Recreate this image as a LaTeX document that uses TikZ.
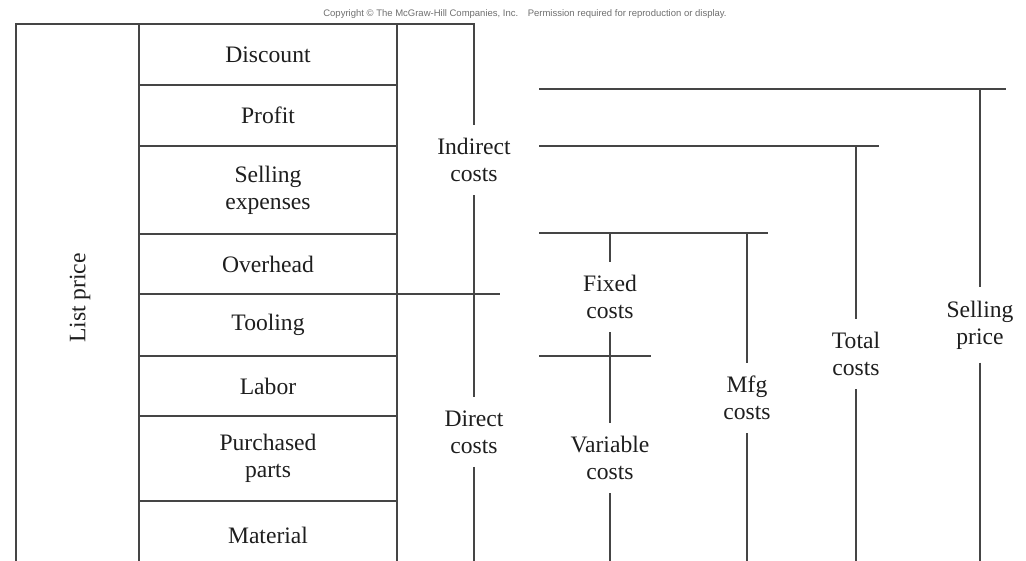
\documentclass[tikz,border=0pt]{standalone}
\usepackage{fontspec}
\setmainfont{Liberation Serif}
\newfontfamily\notefont{Liberation Sans}
\usetikzlibrary{positioning}
\definecolor{cink}{HTML}{1E1E1E}
\definecolor{cline}{HTML}{454545}
\definecolor{cnote}{HTML}{6E6E6E}

\begin{document}
\begin{tikzpicture}[x=0.5pt,y=-0.5pt,
  every node/.style={font=\fontsize{11.8}{13.5}\selectfont,text=cink},
  rowbox/.style={draw=cline,line width=0.8pt,minimum width=129pt,inner sep=0pt,outer sep=0pt,align=center},
  costlabel/.style={align=center,inner sep=6.5pt},
  bar/.style={draw=cline,line width=0.8pt}]
  \useasboundingbox (0,0) rectangle (1026,561);

  % notice
  \node[font=\notefont\fontsize{4.75}{5.5}\selectfont,text=cnote] (notice) at (525,14)
    {Copyright \textcopyright{} The McGraw-Hill Companies, Inc.\quad Permission required for reproduction or display.};

  % cost column
  \node[rowbox,minimum height=30.5pt] (discount) at (268,54.5) {Discount};
  \node[rowbox,minimum height=30.5pt,below=0pt of discount] (profit) {Profit};
  \node[rowbox,minimum height=44pt,below=0pt of profit] (selling) {Selling\\expenses};
  \node[rowbox,minimum height=30pt,below=0pt of selling] (overhead) {Overhead};
  \node[rowbox,minimum height=31pt,below=0pt of overhead] (tooling) {Tooling};
  \node[rowbox,minimum height=30pt,below=0pt of tooling] (labor) {Labor};
  \node[rowbox,minimum height=42.5pt,below=0pt of labor] (parts) {Purchased\\parts};
  \node[rowbox,minimum height=34.5pt,below=0pt of parts] (material) {Material};

  % list price
  \node[rotate=90] (listprice) at (80,298) {List price};
  \coordinate (lpbot) at (16,575);
  \coordinate (lptop) at (16,24);

  % indirect / direct
  \coordinate (ictop) at (474,24);
  \coordinate (icbot) at (474,575);
  \coordinate (split) at (500,294);
  \node[costlabel] (indirect) at (474,160) {Indirect\\costs};
  \node[costlabel] (direct) at (474,432) {Direct\\costs};
  \draw[bar] (lpbot) -- (lptop) -- (ictop) -- (indirect);
  \draw[bar] (indirect) -- (direct);
  \draw[bar] (direct) -- (icbot);
  \draw[bar] (overhead.south east) -- (split);

  % selling price
  \coordinate (spleft) at (539,89);
  \coordinate (spright) at (1006,89);
  \coordinate (sptop) at (980,89);
  \coordinate (spbot) at (980,575);
  \node[costlabel] (price) at (980,325) {Selling\\price};
  \draw[bar] (spleft) -- (spright);
  \draw[bar] (sptop) -- (price);
  \draw[bar] (price) -- (spbot);

  % total costs
  \coordinate (tcleft) at (539,146);
  \coordinate (tcright) at (879,146);
  \coordinate (tctop) at (856,146);
  \coordinate (tcbot) at (856,575);
  \node[costlabel] (total) at (856,354) {Total\\costs};
  \draw[bar] (tcleft) -- (tcright);
  \draw[bar] (tctop) -- (total);
  \draw[bar] (total) -- (tcbot);

  % mfg costs
  \coordinate (mcleft) at (539,233);
  \coordinate (mcright) at (768,233);
  \coordinate (mctop) at (747,233);
  \coordinate (mcbot) at (747,575);
  \node[costlabel] (mfg) at (747,398) {Mfg\\costs};
  \draw[bar] (mcleft) -- (mcright);
  \draw[bar] (mctop) -- (mfg);
  \draw[bar] (mfg) -- (mcbot);

  % fixed / variable
  \coordinate (fctop) at (610,233);
  \coordinate (vcleft) at (539,356);
  \coordinate (vcright) at (651,356);
  \coordinate (vcbot) at (610,575);
  \node[costlabel] (fixed) at (610,297) {Fixed\\costs};
  \node[costlabel] (variable) at (610,458) {Variable\\costs};
  \draw[bar] (fctop) -- (fixed);
  \draw[bar] (fixed) -- (variable);
  \draw[bar] (vcleft) -- (vcright);
  \draw[bar] (variable) -- (vcbot);
\end{tikzpicture}
\end{document}
